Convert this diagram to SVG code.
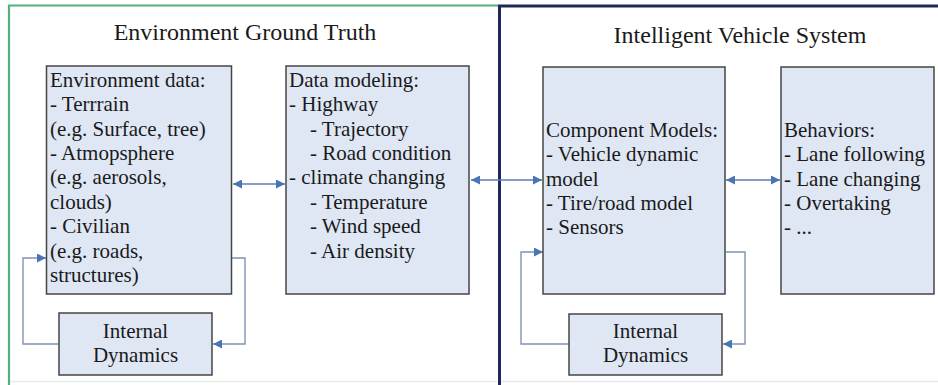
<svg xmlns="http://www.w3.org/2000/svg" width="938" height="385" viewBox="0 0 938 385">
<style>
text { font-family: "Liberation Serif", "Times New Roman", serif; fill: #1a1a1a; }
.body { font-size: 21px; }
.title { font-size: 24px; text-anchor: middle; }
.mid { text-anchor: middle; }
.box { fill: #dfe7f5; stroke: #454545; stroke-width: 1.5; }
.conn { fill: none; stroke: #5a7db5; stroke-width: 1.4; }
.fb { fill: none; stroke: #7f93b5; stroke-width: 1.4; }
</style>
<defs>
<marker id="ah" viewBox="0 0 10 10" refX="10" refY="5" markerWidth="12" markerHeight="9" markerUnits="userSpaceOnUse" orient="auto-start-reverse">
<path d="M0,0 L10,5 L0,10 Z" fill="#4a74b4"/>
</marker>
</defs>
<rect x="0" y="0" width="938" height="385" fill="#ffffff"/>
<g id="panel-env">
<path d="M9,385 L9,5.5 L498,5.5" fill="none" stroke="#52b27a" stroke-width="2.2"/>
<line x1="10" y1="381.5" x2="497" y2="381.5" stroke="#e2efe6" stroke-width="1.5"/>
<text class="title" x="245" y="40">Environment Ground Truth</text>
</g>
<g id="panel-ivs">
<path d="M499.5,385 L499.5,6 L938,6" fill="none" stroke="#1e2858" stroke-width="3"/>
<line x1="501" y1="381.5" x2="938" y2="381.5" stroke="#e6e6ee" stroke-width="1.5"/>
<text class="title" x="740" y="43">Intelligent Vehicle System</text>
</g>
<g id="connectors">
<line class="conn" x1="233" y1="184" x2="285" y2="184" marker-start="url(#ah)" marker-end="url(#ah)"/>
<line class="conn" x1="471" y1="180" x2="542" y2="180" marker-start="url(#ah)" marker-end="url(#ah)"/>
<line class="conn" x1="726" y1="180" x2="780" y2="180" marker-start="url(#ah)" marker-end="url(#ah)"/>
<polyline class="fb" points="59,344 23,344 23,258 46,258" marker-end="url(#ah)"/>
<polyline class="fb" points="232,258 245,258 245,344 213,344" marker-end="url(#ah)"/>
<polyline class="fb" points="569,344 521,344 521,252 543,252" marker-end="url(#ah)"/>
<polyline class="fb" points="726,252 745,252 745,344 723,344" marker-end="url(#ah)"/>
</g>
<g id="env-data">
<rect class="box" x="46.5" y="66" width="185" height="228"/>
<text class="body" x="50" y="87">Environment data:</text>
<text class="body" x="50" y="111">- Terrrain</text>
<text class="body" x="50" y="135.5">(e.g. Surface, tree)</text>
<text class="body" x="50" y="160">- Atmopsphere</text>
<text class="body" x="50" y="184">(e.g. aerosols,</text>
<text class="body" x="50" y="208.5">clouds)</text>
<text class="body" x="50" y="233">- Civilian</text>
<text class="body" x="50" y="257.5">(e.g. roads,</text>
<text class="body" x="50" y="282">structures)</text>
</g>
<g id="data-modeling">
<rect class="box" x="286" y="66" width="183" height="228"/>
<text class="body" x="289" y="87">Data modeling:</text>
<text class="body" x="289" y="111">- Highway</text>
<text class="body" x="310" y="135.5">- Trajectory</text>
<text class="body" x="310" y="160">- Road condition</text>
<text class="body" x="289" y="184">- climate changing</text>
<text class="body" x="310" y="208.5">- Temperature</text>
<text class="body" x="310" y="233">- Wind speed</text>
<text class="body" x="310" y="257.5">- Air density</text>
</g>
<g id="internal-dynamics-env">
<rect class="box" x="59" y="313" width="153" height="62"/>
<text class="body mid" x="135.5" y="338">Internal</text>
<text class="body mid" x="135.5" y="362">Dynamics</text>
</g>
<g id="component-models">
<rect class="box" x="543" y="67" width="182" height="227"/>
<text class="body" x="546" y="137">Component Models:</text>
<text class="body" x="546" y="161">- Vehicle dynamic</text>
<text class="body" x="546" y="185.5">model</text>
<text class="body" x="546" y="210">- Tire/road model</text>
<text class="body" x="546" y="234">- Sensors</text>
</g>
<g id="behaviors">
<rect class="box" x="781" y="67" width="153" height="227"/>
<text class="body" x="784" y="137">Behaviors:</text>
<text class="body" x="784" y="161">- Lane following</text>
<text class="body" x="784" y="185.5">- Lane changing</text>
<text class="body" x="784" y="210">- Overtaking</text>
<text class="body" x="784" y="234">- ...</text>
</g>
<g id="internal-dynamics-ivs">
<rect class="box" x="569" y="314" width="153" height="61"/>
<text class="body mid" x="645.5" y="338">Internal</text>
<text class="body mid" x="645.5" y="362">Dynamics</text>
</g>
</svg>
